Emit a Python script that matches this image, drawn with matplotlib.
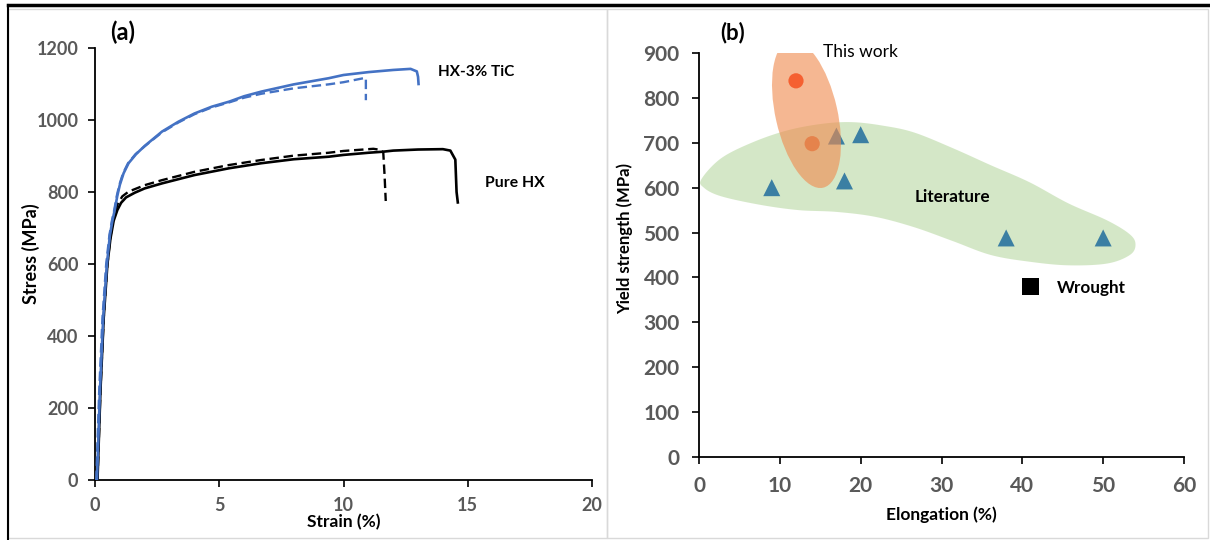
import numpy as np
import matplotlib
matplotlib.use('Agg')
import matplotlib.pyplot as plt
from matplotlib.patches import Ellipse, Polygon, Rectangle
from matplotlib.lines import Line2D
from matplotlib.transforms import ScaledTranslation

plt.rcParams['font.family'] = ['Lato', 'DejaVu Sans']

# ---- panel (a): tensile curves ----
tic_solid_strain = [0.08, 0.2, 0.33, 0.48, 0.6, 0.7, 0.8, 0.9, 1.0, 1.15, 1.35, 1.65, 2.0, 2.7, 3.35,
                    4.0, 4.7, 5.4, 6.0, 6.7, 8.0, 9.4, 10.0, 11.0, 12.0, 12.7, 12.95, 13.0, 13.02]
tic_solid_stress = [0, 250, 450, 600, 680, 720, 752, 790, 820, 852, 880, 905, 928, 968, 995,
                    1018, 1037, 1051, 1066, 1079, 1099, 1116, 1125, 1133, 1139, 1142, 1135, 1120, 1100]

tic_dash_strain = [0.05, 0.17, 0.3, 0.45, 0.58, 0.68, 0.78, 0.88, 0.98, 1.13, 1.33, 1.63, 2.0, 2.7, 3.35,
                   4.0, 4.7, 5.4, 6.0, 6.7, 8.0, 9.4, 10.0, 10.8, 10.9, 10.9]
tic_dash_stress = [0, 250, 450, 600, 680, 720, 752, 790, 820, 852, 880, 905, 927, 966, 993,
                   1016, 1035, 1049, 1062, 1073, 1088, 1099, 1105, 1116, 1117, 1055]

hx_solid_strain = [0.1, 0.22, 0.35, 0.5, 0.62, 0.75, 0.9, 1.05, 1.25, 1.6, 2.0, 2.7, 4.0, 5.4, 6.7,
                   8.0, 9.4, 10.0, 11.0, 11.6, 12.0, 13.0, 14.0, 14.3, 14.5, 14.55, 14.6]
hx_solid_stress = [0, 250, 450, 600, 670, 720, 750, 770, 785, 798, 810, 824, 847, 866, 880,
                   891, 898, 903, 909, 912, 915, 918, 919, 915, 890, 800, 771]

hx_dash_strain = [0.1, 0.22, 0.35, 0.5, 0.62, 0.75, 0.9, 1.1, 1.35, 2.0, 2.7, 4.0, 5.4, 6.7,
                  8.0, 9.4, 10.0, 10.8, 11.2, 11.5, 11.6, 11.65, 11.7]
hx_dash_stress = [0, 250, 450, 600, 675, 730, 765, 788, 801, 819, 833, 856, 875, 889,
                  901, 909, 914, 918, 920, 917, 910, 850, 775]

# ---- panel (b): yield strength vs elongation ----
this_work_elong = [12, 14]
this_work_ys = [838, 698]
lit_elong = [9, 17, 18, 20, 38, 50]
lit_ys = [600, 715, 615, 718, 488, 488]
wrought_elong = [41]
wrought_ys = [380]

# outline of the "Literature" region (elongation, MPa)
lit_region_x = [0.3, 2.7, 6.5, 10.8, 15.1, 18.9, 22.8, 26.6, 31.4, 36.1, 40.9, 45.7, 50.5, 53.3,
                54.0, 53.3, 50.5, 45.7, 40.9, 36.1, 31.4, 26.6, 21.8, 17.0, 12.3, 7.5, 2.7, 0.6]
lit_region_y = [619, 665, 700, 727, 742, 746, 738, 723, 688, 650, 612, 565, 527, 496,
                473, 450, 431, 427, 435, 450, 481, 512, 535, 546, 550, 562, 581, 600]

tick_grey = '#595959'
blue = '#4472c4'


def smooth_closed(xs, ys, n=12):
    # periodic Catmull-Rom through the outline points
    p = np.column_stack([xs, ys]).astype(float)
    m = len(p)
    out = []
    for i in range(m):
        p0, p1, p2, p3 = p[i - 1], p[i], p[(i + 1) % m], p[(i + 2) % m]
        for t in np.linspace(0, 1, n, endpoint=False):
            t2, t3 = t * t, t * t * t
            out.append(0.5 * ((2 * p1) + (-p0 + p2) * t + (2 * p0 - 5 * p1 + 4 * p2 - p3) * t2
                              + (-p0 + 3 * p1 - 3 * p2 + p3) * t3))
    return np.array(out)


fig = plt.figure(figsize=(12.1, 5.4), dpi=100)

# frame lines like the original figure
fig.add_artist(Rectangle((8 / 1210, 2 / 540), 599 / 1210, 529 / 540, transform=fig.transFigure,
                         fill=False, edgecolor='#d9d9d9', linewidth=1))
fig.add_artist(Rectangle((607 / 1210, 2 / 540), 601 / 1210, 529 / 540, transform=fig.transFigure,
                         fill=False, edgecolor='#d9d9d9', linewidth=1))
fig.add_artist(Line2D([8 / 1210, 1], [1 - 5 / 540, 1 - 5 / 540], transform=fig.transFigure,
                      color='black', linewidth=2.5))
fig.add_artist(Line2D([8 / 1210, 8 / 1210], [0, 1 - 5 / 540], transform=fig.transFigure,
                      color='black', linewidth=1.5))

ax1 = fig.add_axes([95 / 1210, 1 - 480 / 540, 497 / 1210, 432 / 540])
ax2 = fig.add_axes([699 / 1210, 1 - 457 / 540, 485 / 1210, 404 / 540])

for ax in (ax1, ax2):
    ax.spines['top'].set_visible(False)
    ax.spines['right'].set_visible(False)
    ax.spines['left'].set_linewidth(1.3)
    ax.spines['bottom'].set_linewidth(1.3)
    ax.patch.set_alpha(0)

# (a)
ax1.plot(tic_solid_strain, tic_solid_stress, color=blue, lw=1.9, zorder=3)
ax1.plot(tic_dash_strain, tic_dash_stress, color=blue, lw=1.7, ls=(0, (4, 2)), zorder=3)
ax1.plot(hx_solid_strain, hx_solid_stress, color='black', lw=1.9, zorder=2)
ax1.plot(hx_dash_strain, hx_dash_stress, color='black', lw=1.7, ls=(0, (4, 2)), zorder=2)

ax1.set_xlim(0, 20)
ax1.set_ylim(0, 1200)
ax1.set_xticks(range(0, 21, 5))
ax1.set_yticks(range(0, 1201, 200))
ax1.tick_params(direction='out', length=5, width=1.2, labelsize=13, labelcolor=tick_grey, pad=7)
for lbl in ax1.get_xticklabels() + ax1.get_yticklabels():
    lbl.set_fontweight('bold')
ax1.set_xlabel('Strain (%)', fontsize=12.5, fontweight='bold', labelpad=0)
ax1.set_ylabel('Stress (MPa)', fontsize=13, fontweight='bold', va='center')
ax1.yaxis.set_label_coords(-0.129, 0.525)

ax1.text(0.6, 1244, '(a)', fontsize=17, fontweight='bold', ha='left', va='center')
ax1.text(13.8, 1133, 'HX-3% TiC', fontsize=11, fontweight='bold', ha='left', va='center')
ax1.text(15.7, 825, 'Pure HX', fontsize=11.3, fontweight='bold', ha='left', va='center')

# (b)
ax2.scatter(this_work_elong, this_work_ys, s=120, color='#ff1a00', edgecolors='none', zorder=1)

blob = smooth_closed(lit_region_x, lit_region_y)
ax2.add_patch(Polygon(blob, closed=True, facecolor='#abd191', edgecolor='none', alpha=0.5, zorder=2))

ax2.scatter(lit_elong, lit_ys, s=150, marker='^', color='#3b7fa3', edgecolors='none', zorder=3)
ax2.scatter(wrought_elong, wrought_ys, s=140, marker='s', color='black', edgecolors='none', zorder=3)

ell_trans = fig.dpi_scale_trans + ScaledTranslation(13.3, 764, ax2.transData)
ax2.add_patch(Ellipse((0, 0), 0.62, 1.51, angle=12.7, transform=ell_trans,
                      facecolor='#f08c50', edgecolor='none', alpha=0.62, zorder=4))

ax2.set_xlim(0, 60)
ax2.set_ylim(0, 900)
ax2.set_xticks(range(0, 61, 10))
ax2.set_yticks(range(0, 901, 100))
ax2.tick_params(direction='out', length=5, width=1.2, labelsize=15, labelcolor=tick_grey, pad=9)
for lbl in ax2.get_xticklabels() + ax2.get_yticklabels():
    lbl.set_fontweight('bold')
ax2.set_xlabel('Elongation (%)', fontsize=12.5, fontweight='bold', labelpad=7)
ax2.set_ylabel('Yield strength (MPa)', fontsize=12, fontweight='bold', va='center')
ax2.yaxis.set_label_coords(-0.153, 0.54)

ax2.text(2.6, 946, '(b)', fontsize=16, fontweight='bold', ha='left', va='center')
ax2.text(15.3, 902, 'This work', fontsize=12.5, ha='left', va='center', zorder=5)
ax2.text(26.7, 579, 'Literature', fontsize=12.3, fontweight='bold', ha='left', va='center', zorder=5)
ax2.text(44.3, 376, 'Wrought', fontsize=12.3, fontweight='bold', ha='left', va='center', zorder=5)

fig.savefig('out.png', dpi=100)
